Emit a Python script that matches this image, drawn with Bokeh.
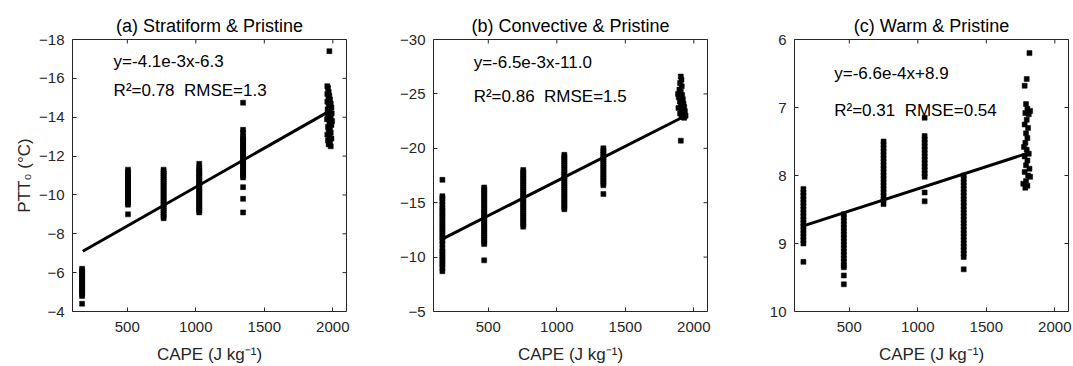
import math
from bokeh.plotting import figure
from bokeh.layouts import row
from bokeh.models import Range1d, FixedTicker, Label, CustomJSTickFormatter
from bokeh.embed import file_html
from bokeh.resources import INLINE

# ---------------- data ----------------
x_ticks = [500, 1000, 1500, 2000]

# (a) Stratiform & Pristine
a_cape = [170, 505, 765, 1025, 1345]
a_ptt = [
    [-6.2, -6.1, -6.0, -5.9, -5.8, -5.7, -5.6, -5.5, -5.4, -5.3, -5.2, -5.1, -5.0, -4.9, -4.8, -4.4],
    [-11.3, -11.2, -11.1, -11.0, -10.9, -10.8, -10.7, -10.6, -10.5, -10.4, -10.3, -10.2, -10.1, -10.0,
     -9.9, -9.8, -9.7, -9.6, -9.5, -9.0],
    [-11.3, -11.2, -11.1, -11.0, -10.9, -10.8, -10.7, -10.6, -10.5, -10.4, -10.3, -10.2, -10.1, -10.0,
     -9.9, -9.8, -9.7, -9.6, -9.5, -9.4, -9.3, -9.2, -9.1, -9.0, -8.9, -8.8],
    [-11.6, -11.4, -11.3, -11.2, -11.1, -11.0, -10.9, -10.8, -10.7, -10.6, -10.5, -10.4, -10.3, -10.2,
     -10.1, -10.0, -9.9, -9.8, -9.7, -9.6, -9.5, -9.4, -9.3, -9.2, -9.1],
    [-14.75, -13.35, -13.2, -13.0, -12.9, -12.8, -12.7, -12.6, -12.5, -12.4, -12.3, -12.2, -12.1, -12.0,
     -11.9, -11.8, -11.7, -11.6, -11.5, -11.4, -11.3, -11.2, -11.1, -11.0, -10.9, -10.4, -9.8, -9.1],
]
a_top_cape = [1975, 1960, 1965, 1970, 1960, 1975, 1968, 1980, 1960, 1985, 1970, 1990, 1962, 1978, 1992, 1965,
              1985, 1958, 1995, 1975, 1990, 1965, 1980, 1970, 1985, 1960, 1975, 1990, 1965, 1980, 1970, 1985]
a_top_ptt = [-17.4, -15.6, -15.5, -15.3, -15.2, -15.1, -15.0, -14.9, -14.8, -14.7, -14.6, -14.5, -14.4, -14.3,
             -14.2, -14.1, -14.0, -13.9, -13.8, -13.7, -13.6, -13.5, -13.4, -13.3, -13.2, -13.1, -13.0, -12.9,
             -12.8, -12.7, -12.6, -12.5]
a_fit_cape = [175, 1985]
a_fit_ptt = [-7.1, -14.35]

# (b) Convective & Pristine
b_cape = [165, 470, 755, 1055, 1340]
b_ptt = [
    [-17.1, -15.6, -15.4, -15.1, -14.8, -14.5, -14.3, -14.0, -13.8, -13.5, -13.3, -13.0, -12.8, -12.5,
     -12.3, -12.0, -11.8, -11.5, -11.2, -10.8, -10.5, -10.3, -10.0, -9.8, -9.5, -9.3, -9.0, -8.7],
    [-16.4, -16.2, -16.0, -15.8, -15.6, -15.4, -15.2, -15.0, -14.8, -14.6, -14.4, -14.2, -14.0, -13.8,
     -13.6, -13.4, -13.2, -13.0, -12.8, -12.6, -12.4, -12.2, -12.0, -11.8, -11.6, -11.4, -11.2, -9.7],
    [-18.0, -17.8, -17.6, -17.4, -17.2, -17.0, -16.8, -16.6, -16.4, -16.2, -16.0, -15.8, -15.6, -15.4,
     -15.2, -15.0, -14.8, -14.6, -14.4, -14.2, -14.0, -13.8, -13.6, -13.4, -13.2, -13.0, -12.8],
    [-19.4, -19.2, -19.0, -18.8, -18.6, -18.4, -18.2, -18.0, -17.8, -17.6, -17.4, -17.2, -17.0, -16.8,
     -16.6, -16.4, -16.2, -16.0, -15.8, -15.6, -15.4, -15.2, -15.0, -14.8, -14.6, -14.4],
    [-20.0, -19.8, -19.6, -19.4, -19.2, -19.0, -18.8, -18.6, -18.4, -18.2, -18.0, -17.8, -17.6, -17.4,
     -17.2, -17.0, -16.8, -16.6, -15.8],
]
b_top_cape = [1905, 1910, 1900, 1912, 1895, 1905, 1885, 1915, 1890, 1920, 1898, 1925, 1905, 1930, 1888, 1915,
              1935, 1900, 1925, 1940, 1910, 1930, 1905]
b_top_ptt = [-26.6, -26.3, -26.0, -25.7, -25.4, -25.2, -25.0, -24.9, -24.7, -24.5, -24.3, -24.1, -24.0, -23.8,
             -23.7, -23.5, -23.4, -23.2, -23.1, -23.0, -22.9, -22.8, -20.7]
b_fit_cape = [170, 1925]
b_fit_ptt = [-11.7, -22.9]

# (c) Warm & Pristine
c_cape = [165, 460, 750, 1050, 1335]
c_ptt = [
    [8.2, 8.25, 8.3, 8.35, 8.4, 8.45, 8.5, 8.55, 8.6, 8.65, 8.7, 8.75, 8.8, 8.85, 8.9, 8.95, 9.0, 9.27],
    [8.57, 8.62, 8.67, 8.72, 8.77, 8.82, 8.87, 8.92, 8.97, 9.02, 9.07, 9.12, 9.17, 9.22, 9.27, 9.32, 9.35,
     9.47, 9.6],
    [7.5, 7.55, 7.6, 7.65, 7.7, 7.75, 7.8, 7.85, 7.9, 7.95, 8.0, 8.05, 8.1, 8.15, 8.2, 8.25, 8.3, 8.35, 8.42],
    [7.15, 7.42, 7.47, 7.52, 7.57, 7.62, 7.67, 7.72, 7.77, 7.82, 7.87, 7.92, 7.97, 8.02, 8.25, 8.38],
    [8.0, 8.05, 8.1, 8.15, 8.2, 8.25, 8.3, 8.35, 8.4, 8.45, 8.5, 8.55, 8.6, 8.65, 8.7, 8.75, 8.8, 8.85,
     8.9, 8.95, 9.0, 9.05, 9.1, 9.15, 9.2, 9.38],
]
c_top_cape = [1815, 1795, 1780, 1790, 1800, 1785, 1820, 1810, 1795, 1780, 1805, 1790, 1800, 1785, 1775, 1795,
              1810, 1780, 1800, 1790, 1815, 1780, 1805, 1820, 1790, 1770, 1800, 1785]
c_top_ptt = [6.2, 6.58, 6.68, 6.95, 7.02, 7.08, 7.05, 7.1, 7.18, 7.25, 7.3, 7.38, 7.45, 7.52, 7.58, 7.62,
             7.68, 7.72, 7.78, 7.85, 7.9, 7.95, 8.0, 8.02, 8.08, 8.12, 8.15, 8.18]
c_fit_cape = [165, 1820]
c_fit_ptt = [8.74, 7.66]

titles = ["(a) Stratiform & Pristine", "(b) Convective & Pristine", "(c) Warm & Pristine"]
equations = ["y=-4.1e-3x-6.3", "y=-6.5e-3x-11.0", "y=-6.6e-4x+8.9"]
stats = ["R\u00b2=0.78\u00a0\u00a0RMSE=1.3", "R\u00b2=0.86\u00a0\u00a0RMSE=1.5", "R\u00b2=0.31\u00a0\u00a0RMSE=0.54"]
x_limits = (100, 2100)
y_limits = [(-4, -18), (-5, -30), (10, 6)]
y_ticks = [[-18, -16, -14, -12, -10, -8, -6, -4],
           [-30, -25, -20, -15, -10, -5],
           [6, 7, 8, 9, 10]]
ann_pos = [(400, -16.85, -15.4), (393, -27.9, -24.8), (390, 6.5, 7.04)]
x_label = "CAPE (J kg\u207b\u00b9)"
y_label = "PTT\u2080 (\u00b0C)"

FONT = "Liberation Sans"
AX = "#262626"

minus_fmt = CustomJSTickFormatter(code="return (tick < 0 ? '\u2212' : '') + Math.abs(tick);")


def panel(i, cape, ptt, top_cape, top_ptt, fit_cape, fit_ptt, width, right_border):
    p = figure(width=width, height=366, output_backend="svg", toolbar_location=None,
               x_range=Range1d(*x_limits), y_range=Range1d(*y_limits[i]),
               min_border_left=72, min_border_right=right_border, min_border_top=39, min_border_bottom=55,
               x_axis_label=x_label, y_axis_label=(y_label if i == 0 else None))
    p.background_fill_color = "white"
    p.border_fill_color = "white"
    p.outline_line_color = AX
    p.outline_line_width = 1
    p.xgrid.visible = False
    p.ygrid.visible = False

    p.title.text = titles[i]
    p.title.align = "center"
    p.title.vertical_align = "bottom"
    p.title.text_font = FONT
    p.title.text_font_size = "18px"
    p.title.text_font_style = "normal"
    p.title.text_color = "#000000"
    p.title.standoff = 7

    for ax in (p.xaxis[0], p.yaxis[0]):
        ax.axis_line_color = None
        ax.major_tick_in = 4
        ax.major_tick_out = 0
        ax.minor_tick_line_color = None
        ax.major_tick_line_color = AX
        ax.major_label_text_font = FONT
        ax.major_label_text_font_size = "15px"
        ax.major_label_text_color = AX
        ax.axis_label_text_font = FONT
        ax.axis_label_text_font_size = "17px"
        ax.axis_label_text_font_style = "normal"
        ax.axis_label_text_color = AX
        ax.formatter = minus_fmt
    p.xaxis[0].ticker = FixedTicker(ticks=x_ticks)
    p.yaxis[0].ticker = FixedTicker(ticks=y_ticks[i])
    p.xaxis[0].major_label_standoff = 10
    p.xaxis[0].axis_label_standoff = 10
    p.yaxis[0].major_label_standoff = 8
    p.yaxis[0].axis_label_standoff = 2

    # mirrored inward tick marks on the top and right edges (box on);
    # dashes centred on the frame edge, the outer half is clipped by the frame
    ytop = y_limits[i][1]
    p.scatter(x_ticks, [ytop] * len(x_ticks), marker="dash", angle=math.pi / 2, size=8,
              line_color=AX, line_width=1)
    p.scatter([x_limits[1]] * len(y_ticks[i]), y_ticks[i], marker="dash", size=8,
              line_color=AX, line_width=1)

    xs, ys = [], []
    for cx, col in zip(cape, ptt):
        for v in col:
            xs.append(cx)
            ys.append(v)
    xs += top_cape
    ys += top_ptt
    p.scatter(xs, ys, marker="square", size=5, fill_color="black", line_color="black", line_width=0.5)
    p.line(fit_cape, fit_ptt, line_color="black", line_width=3)

    ax_, y1, y2 = ann_pos[i]
    for txt, yy in ((equations[i], y1), (stats[i], y2)):
        p.add_layout(Label(x=ax_, y=yy, text=txt, text_baseline="middle", text_align="left",
                           text_font=FONT, text_font_size="17px", text_color="#000000"))
    return p


p1 = panel(0, a_cape, a_ptt, a_top_cape, a_top_ptt, a_fit_cape, a_fit_ptt, 361, 15)
p2 = panel(1, b_cape, b_ptt, b_top_cape, b_top_ptt, b_fit_cape, b_fit_ptt, 361, 15)
p3 = panel(2, c_cape, c_ptt, c_top_cape, c_top_ptt, c_fit_cape, c_fit_ptt, 351, 5)

layout = row(p1, p2, p3)
open("out.html", "w").write(file_html(layout, INLINE))
